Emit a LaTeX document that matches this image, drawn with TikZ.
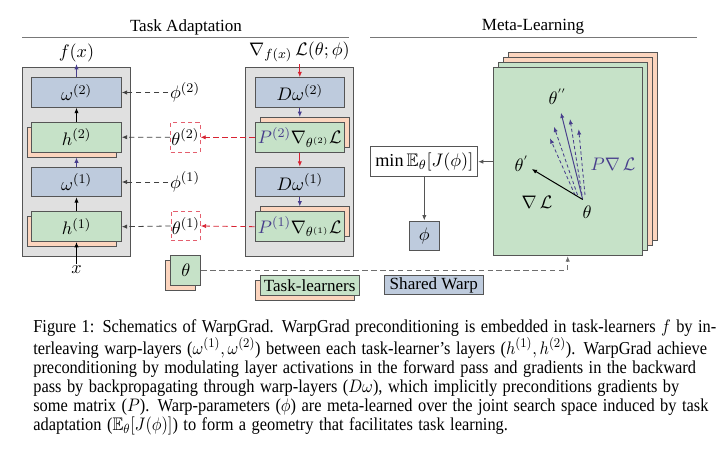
\documentclass[tikz,border=0pt]{standalone}
\usepackage{amsmath,amssymb,graphicx}
\usepackage{fontspec}
\setmainfont{Liberation Serif}
\usetikzlibrary{arrows.meta}
\definecolor{panelg}{RGB}{224,224,224}
\definecolor{borderc}{RGB}{85,85,85}
\definecolor{bluef}{RGB}{190,203,221}
\definecolor{greenf}{RGB}{198,226,200}
\definecolor{orangef}{RGB}{252,213,190}
\definecolor{purplec}{RGB}{72,62,140}
\definecolor{redc}{RGB}{215,35,50}
\definecolor{redbox}{RGB}{228,95,110}
\definecolor{rulec}{RGB}{120,120,120}
\definecolor{dashg}{RGB}{110,110,110}
\newcommand\mfont{\fontsize{11}{13}\selectfont}
\newcommand\tfont{\fontsize{10.3}{12}\selectfont}
\newcommand\capfont{\fontsize{11}{11.5}\selectfont}
\newcommand\capline[1]{\scalebox{0.9}[1]{\makebox[440.9pt][s]{#1}}}
\newcommand\caplast[1]{\scalebox{0.9}[1]{#1}}
\begin{document}
\begin{tikzpicture}[x=0.604pt,y=-0.604pt,
  bx/.style={draw=borderc, line width=0.6pt, inner sep=0pt, minimum width=54.1pt, minimum height=17.9pt, font=\mfont},
  bluebox/.style={bx, fill=bluef},
  greenbox/.style={bx, fill=greenf},
  orangebox/.style={bx, fill=orangef},
  panel/.style={draw=borderc, line width=0.6pt, fill=panelg, minimum width=65.8pt, minimum height=113.9pt, inner sep=0pt},
  lbl/.style={inner sep=1pt, font=\mfont},
  ttl/.style={inner sep=0pt, font=\tfont},
  tip/.style={-{Latex[length=3.2pt,width=2.6pt]}},
  arr/.style={tip, line width=0.6pt, draw=black},
  parr/.style={tip, line width=0.6pt, draw=purplec},
  rarr/.style={tip, line width=0.6pt, draw=redc},
  darr/.style={tip, line width=0.5pt, draw=black!75, dash pattern=on 3.2pt off 2.2pt},
  rdarr/.style={tip, line width=0.5pt, draw=redc, dash pattern=on 3.2pt off 2.2pt},
  gdarr/.style={tip, line width=0.5pt, draw=dashg, dash pattern=on 3.2pt off 2.2pt},
  thbox/.style={draw=redbox, line width=0.5pt, dash pattern=on 2.5pt off 2pt, minimum width=17.8pt, minimum height=17.9pt, inner sep=0pt, font=\mfont},
  garr/.style={tip, line width=0.6pt, draw=borderc},
  pdarr/.style={tip, line width=0.5pt, draw=purplec, dash pattern=on 2pt off 1.5pt},
  rule/.style={draw=rulec, line width=0.6pt}
]
\useasboundingbox (0,0) rectangle (721,453);

% titles
\node[ttl] (tTA) at (186,27) {Task Adaptation};
\node[ttl] (tML) at (533,27) {Meta-Learning};
\draw[rule] (22,37.7) -- (349.3,37.7);
\draw[rule] (370,37.7) -- (696.7,37.7);

% left panel
\node[panel] (lp) at (76.5,162) {};
\node[bluebox] (w2) at (76.5,92.5) {$\omega^{(2)}$};
\node[orangebox] (h2s) at (71.8,142.2) {};
\node[greenbox] (h2) at (76.5,137.2) {$h^{(2)}$};
\node[bluebox] (w1) at (76.5,182) {$\omega^{(1)}$};
\node[orangebox] (h1s) at (71.8,231.7) {};
\node[greenbox] (h1) at (76.5,226.7) {$h^{(1)}$};
\node[lbl] (fx) at (76.5,53) {$f(x)$};
\node[lbl] (xin) at (76.5,270) {$x$};

\draw[arr] (xin.north) -- (h1.south);
\draw[arr] (h1.north) -- (w1.south);
\draw[parr] (w1.north) -- (w1.north |- h2s.south);
\draw[arr] (h2.north) -- (w2.south);
\draw[parr] (w2.north) -- (fx.south);

% right panel
\node[panel, minimum width=65.4pt] (rp) at (299.8,162) {};
\node[bluebox] (dw2) at (299.8,92.5) {$D\omega^{(2)}$};
\node[orangebox] (p2s) at (304.8,132.3) {};
\node[greenbox] (p2) at (299.8,137.3) {$\textcolor{purplec}{P^{(2)}}\nabla_{\theta^{(2)}}\mathcal{L}$};
\node[bluebox] (dw1) at (299.8,182) {$D\omega^{(1)}$};
\node[orangebox] (p1s) at (304.8,221.7) {};
\node[greenbox] (p1) at (299.8,226.7) {$\textcolor{purplec}{P^{(1)}}\nabla_{\theta^{(1)}}\mathcal{L}$};
\node[lbl] (gl) at (299.5,52) {$\nabla_{f(x)}\,\mathcal{L}(\theta;\phi)$};

\draw[rarr] (gl.south -| dw2.north) -- (dw2.north);
\draw[parr] (dw2.south) -- (dw2.south |- p2s.north);
\draw[rarr] (p2.south) -- (dw1.north);
\draw[parr] (dw1.south) -- (dw1.south |- p1s.north);

% middle labels
\node[lbl] (phi2) at (185,92.5) {$\phi^{(2)}$};
\node[lbl] (phi1) at (185,182) {$\phi^{(1)}$};
\node[thbox] (th2) at (185.3,137.3) {$\theta^{(2)}$};
\node[thbox] (th1) at (185.7,226) {$\theta^{(1)}$};

\draw[darr] (phi2.west) -- (w2.east);
\draw[darr] (phi1.west) -- (w1.east);
\draw[darr] (th2.west) -- (h2.east);
\draw[darr] (th1.west) -- (h1.east);
\draw[rdarr] (p2.west) -- (th2.east);
\draw[rdarr] (p1.west) -- (th1.east);

% meta-learning stack
\node[orangebox, minimum width=90.2pt, minimum height=113.6pt] (m4) at (583,146.7) {};
\node[orangebox, minimum width=90.2pt, minimum height=113.6pt] (m3) at (578,151.7) {};
\node[greenbox, minimum width=90.2pt, minimum height=113.6pt] (m2) at (573,156.7) {};
\node[greenbox, minimum width=90.2pt, minimum height=113.6pt] (mf) at (568,161.7) {};

\node[bx, fill=white, minimum width=64.4pt, minimum height=18.1pt] (minb) at (424.3,161.7) {$\min\mathbb{E}_\theta[J(\phi)]$};
\node[bluebox, minimum width=18.1pt, minimum height=18.1pt] (phib) at (424.3,236) {$\phi$};
\draw[garr] (mf.west) -- (minb.east);
\draw[garr] (minb.south) -- (phib.north);

% inside meta
\coordinate (o) at (582.7,199.5);
\coordinate (tpt) at (531.7,169);
\coordinate (tppt) at (561,112.7);
\coordinate (d1s) at (575,195) ; \coordinate (d1e) at (550,138.3);
\coordinate (d2s) at (577.5,195); \coordinate (d2e) at (554,126.7);
\coordinate (d3s) at (582,195); \coordinate (d3e) at (570,119);
\coordinate (d4s) at (585,195); \coordinate (d4e) at (578.7,129.3);
\node[lbl] (thl) at (587,212) {$\theta$};
\node[lbl] (thp) at (521.7,164) {$\theta^{'}$};
\node[lbl] (thpp) at (557.7,97) {$\theta^{''}$};
\node[lbl] (gL) at (537,202) {$\nabla\,\mathcal{L}$};
\node[lbl, text=purplec] (pgL) at (613,164) {$P\nabla\,\mathcal{L}$};
\draw[pdarr] (d1s) -- (d1e);
\draw[pdarr] (d2s) -- (d2e);
\draw[pdarr] (d3s) -- (d3e);
\draw[pdarr] (d4s) -- (d4e);
\draw[parr] (o) -- (tppt);
\draw[arr] (o) -- (tpt);

% bottom
\node[orangebox, minimum width=18.3pt, minimum height=17.8pt] (thbs) at (180.8,275.5) {};
\node[greenbox, minimum width=18.3pt, minimum height=17.8pt] (thb) at (185.8,270.5) {$\theta$};
\coordinate (corner) at (567.7,270.5);
\draw[gdarr] (thb.east) -- (corner) -- (corner |- mf.south);

\node[orangebox, minimum width=60pt, minimum height=12.1pt] (tls) at (305.2,290.7) {};
\node[greenbox, minimum width=60pt, minimum height=12.1pt, font=\tfont] (tl) at (309.7,285.7) {Task-learners};
\node[bluebox, minimum width=59.8pt, minimum height=11.2pt, font=\tfont] (sw) at (433.8,285) {Shared Warp};

% caption
\node[anchor=north west, inner sep=0pt, text width=396.8pt, font=\capfont] (cap) at (33,319) {%
\capline{Figure 1: Schematics of WarpGrad. WarpGrad preconditioning is embedded in task-learners $f$ by in-}\\
\capline{terleaving warp-layers ($\omega^{(1)},\omega^{(2)}$) between each task-learner's layers ($h^{(1)},h^{(2)}$). WarpGrad achieve}\\
\capline{preconditioning by modulating layer activations in the forward pass and gradients in the backward}\\
\capline{pass by backpropagating through warp-layers ($D\omega$), which implicitly preconditions gradients by}\\
\capline{some matrix ($P$). Warp-parameters ($\phi$) are meta-learned over the joint search space induced by task}\\
\caplast{adaptation ($\mathbb{E}_\theta[J(\phi)]$) to form a geometry that facilitates task learning.}};
\end{tikzpicture}
\end{document}
